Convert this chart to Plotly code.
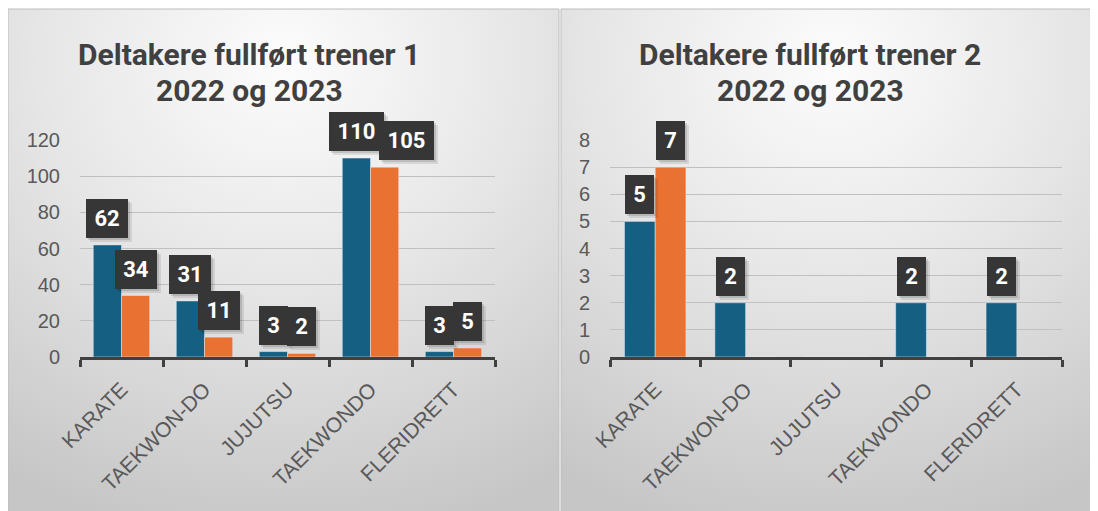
import base64
import plotly.graph_objects as go

# ---------------- data ----------------
categories = ["KARATE", "TAEKWON-DO", "JUJUTSU", "TAEKWONDO", "FLERIDRETT"]
trener1_2022 = [62, 31, 3, 110, 3]
trener1_2023 = [34, 11, 2, 105, 5]
trener2_2022 = [5, 2, 0, 2, 2]
trener2_2023 = [7, 0, 0, 0, 0]
title1_lines = ["Deltakere fullført trener 1", "2022 og 2023"]
title2_lines = ["Deltakere fullført trener 2", "2022 og 2023"]
yticks1 = [0, 20, 40, 60, 80, 100, 120]
yticks2 = [0, 1, 2, 3, 4, 5, 6, 7, 8]

# ---------------- layout constants ----------------
W, H = 1098, 511
OFF = 8  # page body margin: the figure is drawn 8px right/down in the window
BLUE = "#156082"
ORANGE = "#E97132"
BARGAP = 0.32

plot1 = dict(x0=80, x1=495, ytop=140, ybot=357, ymax=120)
plot2 = dict(x0=610, x1=1062, ytop=140, ybot=357, ymax=8)
panels = [(8, 559), (561, 1106)]


def px_x(px):
    return (px - OFF) / W


def px_y(py):
    return 1 - (py - OFF) / H


fig = go.Figure()

series_sets = [
    ("x", "y", trener1_2022, trener1_2023, plot1),
    ("x2", "y2", trener2_2022, trener2_2023, plot2),
]

for xa, ya, s22, s23, p in series_sets:
    fig.add_trace(go.Bar(x=categories, y=s22, name="2022", marker_color=BLUE,
                         xaxis=xa, yaxis=ya, showlegend=False, hoverinfo="x+y"))
    fig.add_trace(go.Bar(x=categories, y=s23, name="2023", marker_color=ORANGE,
                         xaxis=xa, yaxis=ya, showlegend=False, hoverinfo="x+y"))

# ---------------- data labels ----------------
annotations = []
BOX_H = 39
LIFT = 7


def box_w(v):
    return 16 + 13 * len(str(v))


for xa, ya, s22, s23, p in series_sets:
    cat_px = (p["x1"] - p["x0"]) / len(categories)
    bar_px = cat_px * (1 - BARGAP) / 2
    ppu = (p["ybot"] - p["ytop"]) / p["ymax"]
    shifts = {}
    for i in range(len(categories)):
        a, b = s22[i], s23[i]
        if a > 0 and b > 0:
            h_ov = (box_w(a) + box_w(b)) / 2 - bar_px
            v_ov = BOX_H - abs(a - b) * ppu
            if h_ov > 10 and v_ov > 20:
                shifts[i] = h_ov - 5
    for k, (vals, sign) in enumerate([(s22, -1), (s23, 1)]):
        for i, v in enumerate(vals):
            if v <= 0:
                continue
            xs = sign * bar_px / 2 + (shifts.get(i, 0) if k == 1 else 0)
            common = dict(x=categories[i], y=v, xref=xa, yref=ya,
                          yanchor="bottom", xanchor="center", showarrow=False,
                          width=box_w(v), height=BOX_H, borderpad=0, borderwidth=0)
            annotations.append(dict(common, text=" ", bgcolor="rgba(0,0,0,0.09)",
                                    xshift=xs + 4, yshift=LIFT - 4))
            annotations.append(dict(common, text=" ", bgcolor="rgba(0,0,0,0.12)",
                                    xshift=xs + 2, yshift=LIFT - 2))
            annotations.append(dict(common, text="<b>%d</b>" % v, bgcolor="#363636",
                                    font=dict(family="Roboto", size=22, color="white"),
                                    xshift=xs, yshift=LIFT))

# ---------------- titles ----------------
for lines, cx in [(title1_lines, 249), (title2_lines, 810)]:
    for txt, cy in zip(lines, [54, 90]):
        annotations.append(dict(text="<b>%s</b>" % txt, x=px_x(cx), y=px_y(cy),
                                xref="paper", yref="paper", xanchor="center",
                                yanchor="middle", showarrow=False,
                                font=dict(family="Roboto", size=30, color="#404040")))

# ---------------- background gradients ----------------
images = []
shapes = []
for (a, b) in panels:
    w, h = b - a, H + OFF - 9
    svg = ('<svg xmlns="http://www.w3.org/2000/svg" width="%d" height="%d" '
           'preserveAspectRatio="none">'
           '<defs><radialGradient id="g" cx="50%%" cy="10%%" r="95%%">'
           '<stop offset="0" stop-color="#fcfcfc"/>'
           '<stop offset="0.45" stop-color="#e7e7e7"/>'
           '<stop offset="1" stop-color="#c6c6c6"/></radialGradient></defs>'
           '<rect width="100%%" height="100%%" fill="url(#g)"/></svg>') % (w, h)
    src = "data:image/svg+xml;base64," + base64.b64encode(svg.encode()).decode()
    images.append(dict(source=src, xref="paper", yref="paper", x=px_x(a), y=px_y(9),
                       sizex=w / W, sizey=h / H, xanchor="left", yanchor="top",
                       sizing="stretch", layer="below"))
    shapes.append(dict(type="rect", xref="paper", yref="paper", x0=px_x(a), x1=px_x(b),
                       y0=px_y(H + OFF + 2), y1=px_y(9),
                       line=dict(color="#bcbcbc", width=1), layer="below"))

xcommon = dict(showline=True, linecolor="#404040", linewidth=3, ticks="outside",
               tickson="boundaries", ticklen=7, tickwidth=3, tickcolor="#404040",
               tickangle=-45, showgrid=False, automargin=False,
               ticklabelstandoff=9,
               tickfont=dict(family="Liberation Sans", size=21, color="#595959"),
               fixedrange=True)
ycommon = dict(showline=False, ticks="", showgrid=True, gridcolor="#c0c0c0",
               gridwidth=1, zeroline=False, automargin=False,
               tickfont=dict(family="Liberation Sans", size=20, color="#595959"),
               ticklabelstandoff=19, fixedrange=True)

fig.update_layout(
    width=W, height=H, autosize=False,
    margin=dict(l=0, r=0, t=0, b=0, pad=0, autoexpand=False),
    paper_bgcolor="white", plot_bgcolor="rgba(0,0,0,0)",
    barmode="group", bargap=BARGAP, bargroupgap=0,
    xaxis=dict(xcommon, domain=[px_x(plot1["x0"]), px_x(plot1["x1"])], anchor="y"),
    yaxis=dict(ycommon, domain=[px_y(plot1["ybot"]), px_y(plot1["ytop"])], anchor="x",
               range=[0, plot1["ymax"]], tickvals=yticks1),
    xaxis2=dict(xcommon, domain=[px_x(plot2["x0"]), px_x(plot2["x1"])], anchor="y2"),
    yaxis2=dict(ycommon, domain=[px_y(plot2["ybot"]), px_y(plot2["ytop"])], anchor="x2",
                range=[0, plot2["ymax"]], tickvals=yticks2),
    annotations=annotations, images=images, shapes=shapes,
    showlegend=False,
)

fig.write_html("out.html")
